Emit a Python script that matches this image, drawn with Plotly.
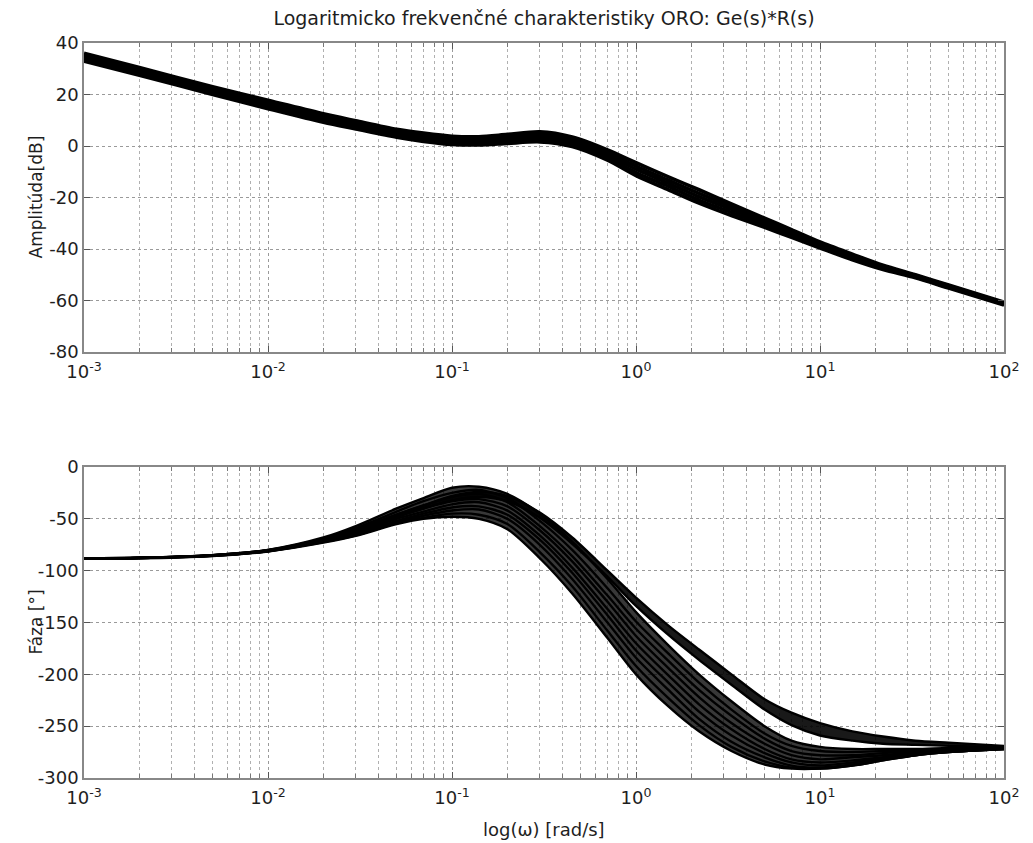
import plotly.graph_objects as go

# ---------------- data ----------------
W = [0.001, 0.002, 0.005, 0.01, 0.02, 0.03, 0.05, 0.07, 0.1, 0.14, 0.2, 0.3, 0.45,
     0.7, 1, 1.5, 2.2, 3.3, 5, 7, 10, 15, 22, 33, 50, 100]

# magnitude [dB]
MAG_1 = [36, 30.5, 23, 17.8, 12.5, 9.8, 6.5, 5, 3.8, 3.6, 4.5, 5.5, 3.5, -1.5, -6.5, -12, -17, -22.5, -28, -32.5, -37.3, -42, -46.3, -50, -54, -60.6]
MAG_2 = [35.3, 29.8, 22.2, 17, 11.7, 9, 5.8, 4.2, 3, 2.8, 3.6, 4.6, 2.6, -2.5, -7.8, -13.3, -18.4, -23.5, -28.9, -33.2, -37.9, -42.5, -46.7, -50.3, -54.3, -60.9]
MAG_3 = [34.6, 29, 21.5, 16.2, 10.8, 8.2, 5, 3.4, 2.2, 2, 2.8, 3.6, 1.7, -3.5, -9, -14.5, -19.7, -24.6, -29.8, -34, -38.5, -43, -47.1, -50.6, -54.6, -61.2]
MAG_4 = [33.8, 28.3, 20.7, 15.3, 10, 7.4, 4.2, 2.6, 1.4, 1.2, 1.9, 2.6, 0.8, -4.5, -10.3, -15.7, -21, -25.8, -30.7, -34.8, -39.1, -43.6, -47.5, -50.9, -54.9, -61.5]
MAG_5 = [33, 27.5, 20, 14.5, 9.2, 6.6, 3.4, 1.8, 0.6, 0.4, 1, 1.6, -0.2, -5.5, -11.5, -17, -22.2, -27, -31.6, -35.5, -39.6, -44.2, -48, -51.2, -55.2, -61.8]

# phase [deg] - upper (isolated) bundle
PH_A1 = [-88, -87.5, -85, -80, -69, -60, -46, -37, -28, -24, -28, -44, -68, -100, -126, -153, -176, -200, -224, -237, -247, -255, -260, -264, -266, -269]
PH_A2 = [-88, -87.5, -85, -80.5, -70, -61, -48, -40, -32, -29, -33, -49, -74, -106, -134, -162, -186, -210, -234, -249, -259, -264, -267, -268, -269, -270]
# phase [deg] - main bundle
PH_L1 = [-88, -87.5, -85, -80, -68, -57, -40, -30, -20, -19, -26, -45, -72, -108, -140, -172, -200, -226, -250, -264, -270, -272, -272, -272, -271, -270]
PH_L2 = [-88, -87.6, -85, -80.3, -69, -59, -43, -33, -25, -22, -30, -52, -80, -117, -149, -180, -208, -234, -257, -269, -274, -275, -274, -273, -272, -270.5]
PH_L3 = [-88, -87.6, -85.2, -80.5, -70, -61, -46, -37, -29, -26, -34, -57, -86, -124, -156, -187, -215, -240, -262, -274, -278, -278, -276, -274, -272, -271]
PH_L4 = [-88, -87.7, -85.3, -80.7, -70.5, -62, -48, -40, -33, -31, -38, -61, -91, -130, -163, -194, -222, -247, -267, -278, -282, -280, -278, -275, -273, -271]
PH_L5 = [-88, -87.7, -85.4, -81, -71, -63, -50, -43, -36, -34, -42, -66, -97, -137, -170, -201, -229, -253, -272, -282, -285, -283, -280, -276, -274, -271.5]
PH_L6 = [-88, -87.8, -85.5, -81, -71.5, -64, -52, -45, -39, -38, -46, -70, -102, -143, -177, -208, -236, -259, -276, -285, -288, -285, -281, -277, -274, -272]
PH_L7 = [-88, -87.8, -85.6, -81.2, -72, -65, -53, -47, -42, -41, -50, -75, -108, -150, -184, -215, -243, -265, -280, -288, -290, -287, -282, -278, -275, -272]
PH_L8 = [-88, -87.9, -85.7, -81.3, -72.5, -66, -54, -49, -45, -46, -55, -82, -115, -158, -192, -223, -249, -270, -284, -290, -291, -288, -283, -278, -275, -272]
PH_L9 = [-88, -88, -85.8, -81.5, -73, -66.5, -55, -50, -48, -50, -60, -88, -122, -165, -200, -231, -255, -274, -287, -291, -291, -288, -283, -278, -275, -272]

X_TICKS = [0.001, 0.01, 0.1, 1, 10, 100]
X_TICK_TEXT = ["10<sup>-3</sup>", "10<sup>-2</sup>", "10<sup>-1</sup>", "10<sup>0</sup>", "10<sup>1</sup>", "10<sup>2</sup>"]
MAG_TICKS = [-80, -60, -40, -20, 0, 20, 40]
MAG_TICK_TEXT = ["-80", "-60", "-40", "-20", "0", "20", "40"]
PH_TICKS = [-300, -250, -200, -150, -100, -50, 0]
PH_TICK_TEXT = ["-300", "-250", "-200", "-150", "-100", "-50", "0"]

TITLE = "Logaritmicko frekvenčné charakteristiky ORO: Ge(s)*R(s)"
MAG_LABEL = "Amplitúda[dB]"
PH_LABEL = "Fáza [°]"
X_LABEL = "log(ω) [rad/s]"

# ---------------- figure ----------------
FONT = "DejaVu Sans, Liberation Sans, Arial, sans-serif"
TXT = "#1e1e1e"
fig = go.Figure()
LS = dict(shape="spline", smoothing=0.8)

for m in [MAG_1, MAG_2, MAG_3, MAG_4, MAG_5]:
    fig.add_trace(go.Scatter(x=W, y=m, mode="lines", line=dict(color="black", width=3.6, **LS),
                             xaxis="x", yaxis="y", showlegend=False, hoverinfo="skip"))

def band(lo, hi, color):
    fig.add_trace(go.Scatter(x=W, y=lo, mode="lines", line=dict(color="rgba(0,0,0,0)", width=0, **LS),
                             xaxis="x2", yaxis="y2", showlegend=False, hoverinfo="skip"))
    fig.add_trace(go.Scatter(x=W, y=hi, mode="lines", line=dict(color="rgba(0,0,0,0)", width=0, **LS),
                             fill="tonexty", fillcolor=color,
                             xaxis="x2", yaxis="y2", showlegend=False, hoverinfo="skip"))

band(PH_L1, PH_L9, "rgba(0,0,0,0.78)")
band(PH_A1, PH_A2, "rgba(0,0,0,0.9)")

for p in [PH_A1, PH_A2, PH_L1, PH_L2, PH_L3, PH_L4, PH_L5, PH_L6, PH_L7, PH_L8, PH_L9]:
    fig.add_trace(go.Scatter(x=W, y=p, mode="lines", line=dict(color="black", width=2.4, **LS),
                             xaxis="x2", yaxis="y2", showlegend=False, hoverinfo="skip"))

axis_common = dict(
    type="log", range=[-3, 2], tickvals=X_TICKS, ticktext=X_TICK_TEXT, automargin=False,
    ticks="inside", ticklen=6, tickcolor="#555", showline=True, linecolor="#888", linewidth=1.5, mirror="ticks",
    showgrid=True, gridcolor="#9a9a9a", griddash="dot", gridwidth=1, ticklabelstandoff=3,
    minor=dict(dtick="D1", showgrid=True, gridcolor="#b0b0b0", griddash="dot", gridwidth=1,
               ticks="inside", ticklen=4, tickcolor="#777"),
    zeroline=False, tickfont=dict(size=18, color=TXT, family=FONT),
)

yaxis_common = dict(
    ticks="inside", ticklen=6, tickcolor="#555", showline=True, linecolor="#888", linewidth=1.5, mirror="ticks",
    showgrid=True, gridcolor="#9a9a9a", griddash="dot", gridwidth=1, zeroline=False, automargin=False,
    tickfont=dict(size=18, color=TXT, family=FONT),
)

# page body has an 8px margin: figure sized so the axes land where the reference has them
FIG_W, FIG_H = 1025, 835
ML, MR, MT, MB = 76, 29, 35, 65
PLOT_W = FIG_W - ML - MR
PLOT_H = FIG_H - MT - MB
TOP_DOM = [0.5796, 1]
BOT_DOM = [0, 0.4231]

fig.update_layout(
    width=FIG_W, height=FIG_H,
    margin=dict(l=ML, r=MR, t=MT, b=MB),
    paper_bgcolor="white", plot_bgcolor="white",
    font=dict(family=FONT, color=TXT),
    title=dict(text=TITLE, x=0.5, xanchor="center", xref="paper", yref="container", y=1 - 10 / FIG_H, yanchor="middle",
               font=dict(size=19, color=TXT, family=FONT), automargin=False),
    xaxis=dict(**axis_common, domain=[0, 1], anchor="y"),
    yaxis=dict(**yaxis_common, domain=TOP_DOM, range=[-80, 40], tickvals=MAG_TICKS, ticktext=MAG_TICK_TEXT),
    xaxis2=dict(**axis_common, domain=[0, 1], anchor="y2"),
    yaxis2=dict(**yaxis_common, domain=BOT_DOM, range=[-300, 0], tickvals=PH_TICKS, ticktext=PH_TICK_TEXT),
    annotations=[
        dict(text=MAG_LABEL, xref="paper", yref="paper", x=(28 - ML) / PLOT_W, y=sum(TOP_DOM) / 2,
             xanchor="center", yanchor="middle", textangle=-90, showarrow=False,
             font=dict(size=17, family=FONT, color=TXT)),
        dict(text=PH_LABEL, xref="paper", yref="paper", x=(28 - ML) / PLOT_W, y=sum(BOT_DOM) / 2,
             xanchor="center", yanchor="middle", textangle=-90, showarrow=False,
             font=dict(size=17, family=FONT, color=TXT)),
        dict(text=X_LABEL, xref="paper", yref="paper", x=0.5, y=((FIG_H - MB) - 821) / PLOT_H,
             xanchor="center", yanchor="middle", showarrow=False,
             font=dict(size=18, family=FONT, color=TXT)),
    ],
)

fig.write_html("out.html")
